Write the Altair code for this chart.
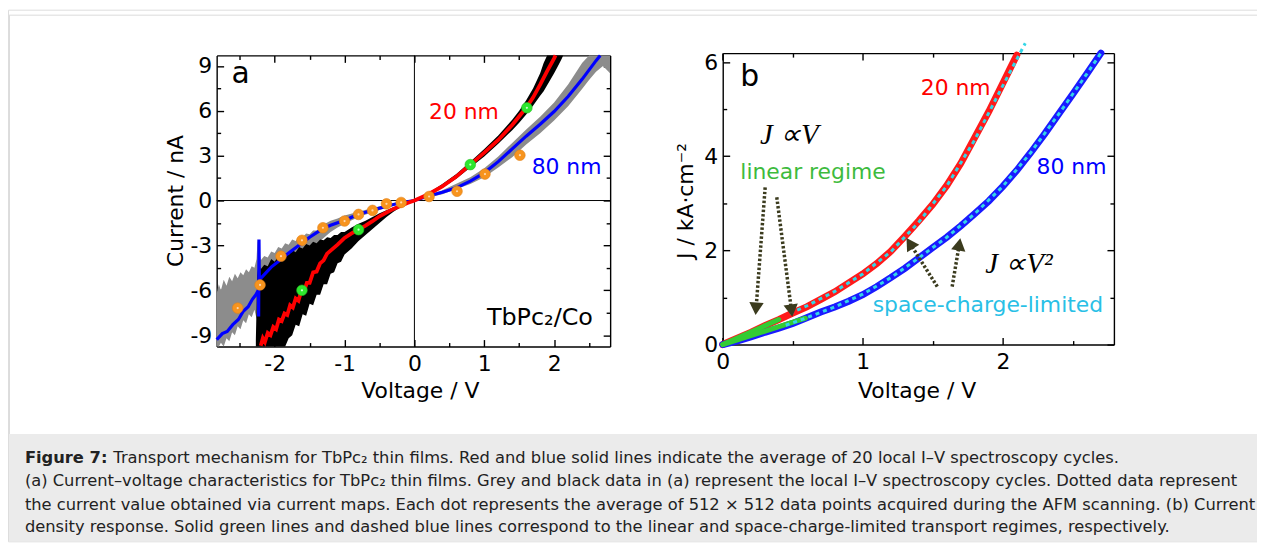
import altair as alt
import pandas as pd

W, H = 1257, 535
SANS = "DejaVu Sans"
SERIF = "Liberation Serif"

# ---------------- Panel (a): current-voltage characteristics ----------------
# red: 20 nm average
a_red_v = [-2.20, -2.17, -2.14, -2.10, -2.06, -2.02, -1.98, -1.94, -1.90, -1.86, -1.82, -1.78,
           -1.74, -1.70, -1.66, -1.62, -1.58, -1.54, -1.50, -1.45, -1.40, -1.35, -1.30, -1.25,
           -1.20, -1.10, -1.00, -0.90, -0.80, -0.70, -0.60, -0.50, -0.40, -0.30, -0.20, -0.10,
           0.0, 0.2, 0.4, 0.6, 0.8, 1.0, 1.2, 1.4, 1.6, 1.7, 1.8, 1.9, 2.0, 2.02]
a_red_i = [-9.70, -9.20, -9.45, -8.85, -9.00, -8.45, -8.60, -7.95, -8.05, -7.55, -7.65, -7.00,
           -7.15, -6.55, -6.70, -6.05, -6.05, -5.50, -5.50, -4.80, -4.75, -4.20, -4.00, -3.55,
           -3.35, -2.95, -2.50, -2.20, -1.95, -1.68, -1.38, -1.05, -0.80, -0.56, -0.36, -0.17,
           0.0, 0.42, 0.95, 1.60, 2.40, 3.20, 4.05, 5.05, 6.20, 6.90, 7.75, 8.65, 9.50, 9.70]
# blue: 80 nm average (with the spike near -2.23 V)
a_blue_v = [-2.83, -2.75, -2.68, -2.60, -2.52, -2.45, -2.38, -2.32, -2.27, -2.235, -2.23, -2.225,
            -2.22, -2.15, -2.05, -1.92, -1.80, -1.70, -1.62, -1.50, -1.40, -1.31, -1.20, -1.10,
            -1.00, -0.90, -0.80, -0.60, -0.40, -0.20, 0.0, 0.2, 0.4, 0.6, 0.8, 1.0, 1.2, 1.4,
            1.6, 1.8, 2.0, 2.2, 2.4, 2.6, 2.66]
a_blue_i = [-9.30, -8.90, -8.75, -8.30, -7.95, -7.40, -7.10, -6.60, -6.30, -6.00, -7.75, -2.60,
            -5.30, -4.95, -4.45, -3.98, -3.50, -3.15, -2.88, -2.45, -2.15, -1.88, -1.65, -1.48,
            -1.33, -1.12, -0.93, -0.64, -0.38, -0.15, 0.0, 0.30, 0.55, 0.85, 1.30, 1.85, 2.60, 3.45,
            4.30, 5.10, 5.95, 6.95, 8.10, 9.35, 9.70]
# black: local I-V cycles, 20 nm (envelope)
a_black_v = [-2.27, -2.25, -2.23, -2.20, -2.15, -2.10, -2.05, -2.00, -1.95, -1.90, -1.85, -1.80,
             -1.75, -1.70, -1.65, -1.60, -1.55, -1.50, -1.45, -1.40, -1.35, -1.30, -1.25, -1.20,
             -1.15, -1.10, -1.05, -1.00, -0.90, -0.80, -0.70, -0.60, -0.50, -0.40, -0.30, -0.20,
             -0.10, 0.00, 0.20, 0.40, 0.60, 0.80, 1.00, 1.20, 1.40, 1.50, 1.60, 1.70, 1.80, 1.85,
             1.90, 2.00, 2.05, 2.10, 2.13]
a_black_lo = [-9.76, -9.76, -9.76, -9.76, -9.76, -9.76, -9.76, -9.76, -9.76, -9.76, -9.76, -9.20,
              -9.00, -8.30, -8.40, -7.60, -7.70, -6.90, -7.00, -6.30, -6.30, -5.60, -5.60, -4.90,
              -4.80, -4.20, -4.10, -3.60, -3.20, -2.70, -2.30, -1.90, -1.50, -1.10, -0.75, -0.45,
              -0.20, -0.03, 0.36, 0.85, 1.45, 2.20, 2.95, 3.80, 4.70, 5.20, 5.75, 6.35, 7.00, 7.30,
              7.70, 8.50, 8.95, 9.40, 9.70]
a_black_hi = [-9.30, -5.00, -4.20, -4.60, -4.30, -4.40, -3.90, -4.10, -3.70, -3.90, -3.50, -3.65,
              -3.30, -3.45, -3.10, -3.20, -2.90, -3.00, -2.75, -2.85, -2.60, -2.65, -2.45, -2.50,
              -2.30, -2.30, -2.10, -2.10, -1.80, -1.55, -1.35, -1.10, -0.85, -0.65, -0.45, -0.28,
              -0.10, 0.03, 0.50, 1.10, 1.78, 2.60, 3.45, 4.35, 5.40, 6.00, 6.70, 7.50, 8.50, 9.20,
              9.70, 9.70, 9.70, 9.70, 9.70]
# grey: local I-V cycles, 80 nm (envelope)
a_grey_v = [-2.83, -2.80, -2.77, -2.73, -2.69, -2.65, -2.61, -2.57, -2.53, -2.49, -2.45, -2.41,
            -2.37, -2.33, -2.29, -2.26, -2.245, -2.23, -2.20, -2.15, -2.10, -2.05, -2.00, -1.95,
            -1.90, -1.85, -1.80, -1.75, -1.70, -1.65, -1.60, -1.55, -1.50, -1.45, -1.40, -1.30,
            -1.20, -1.10, -1.00, -0.80, -0.60, -0.40, -0.20, 0.00, 0.40, 0.80, 1.00, 1.20, 1.40,
            1.60, 1.80, 2.00, 2.20, 2.40, 2.50, 2.60, 2.70, 2.80]
a_grey_lo = [-9.76, -9.76, -9.50, -9.76, -9.20, -9.40, -8.80, -9.00, -8.40, -8.60, -8.00, -8.20,
             -7.60, -7.80, -7.30, -7.90, -7.80, -6.90, -6.80, -6.50, -6.40, -6.10, -6.00, -5.70,
             -5.50, -5.20, -4.90, -4.70, -4.40, -4.20, -3.90, -3.60, -3.40, -3.10, -2.90, -2.50,
             -2.10, -1.80, -1.55, -1.10, -0.78, -0.48, -0.22, -0.03, 0.42, 1.10, 1.55, 2.20, 2.90,
             3.75, 4.50, 5.35, 6.30, 7.45, 8.05, 8.60, 9.00, 8.50]
a_grey_hi = [-6.20, -5.60, -6.00, -5.30, -5.70, -5.10, -5.40, -4.90, -5.20, -4.80, -5.00, -4.60,
             -4.80, -4.40, -4.50, -3.90, -2.55, -3.20, -4.00, -3.70, -3.80, -3.40, -3.50, -3.10,
             -3.20, -2.85, -2.95, -2.60, -2.70, -2.40, -2.45, -2.20, -2.25, -2.00, -2.00, -1.60,
             -1.35, -1.20, -1.00, -0.75, -0.50, -0.28, -0.10, 0.03, 0.68, 1.55, 2.15, 2.95, 3.85,
             4.75, 5.60, 6.55, 7.75, 9.20, 9.70, 9.70, 9.70, 9.70]
# orange dots: current maps
a_map_v = [-2.53, -2.21, -1.91, -1.61, -1.31, -1.00, -0.80, -0.60, -0.40, -0.19, 0.21, 0.61, 1.01, 1.51]
a_map_i = [-7.19, -5.64, -3.72, -2.66, -1.82, -1.37, -0.93, -0.66, -0.22, -0.13, 0.27, 0.62, 1.77, 3.03]
# green dots: current maps (20 nm)
a_green_v = [-1.61, -0.80, 0.80, 1.61]
a_green_i = [-6.00, -1.95, 2.40, 6.20]

# ---------------- Panel (b): current density ----------------
b_red_v = [0, 0.1, 0.2, 0.3, 0.4, 0.5, 0.6, 0.7, 0.8, 0.9, 1.0, 1.1, 1.2, 1.3, 1.4, 1.5, 1.6,
           1.7, 1.8, 1.9, 2.0, 2.05, 2.1]
b_red_j = [0, 0.13, 0.26, 0.40, 0.53, 0.67, 0.80, 0.96, 1.12, 1.31, 1.50, 1.72, 1.98, 2.30,
           2.63, 2.98, 3.38, 3.85, 4.40, 4.95, 5.55, 5.85, 6.15]
b_blue_v = [0, 0.1, 0.2, 0.3, 0.4, 0.5, 0.6, 0.7, 0.8, 0.9, 1.0, 1.1, 1.2, 1.3, 1.4, 1.5, 1.6,
            1.7, 1.8, 1.9, 2.0, 2.1, 2.2, 2.3, 2.4, 2.5, 2.6, 2.7]
b_blue_j = [0, 0.07, 0.16, 0.26, 0.35, 0.45, 0.57, 0.69, 0.80, 0.92, 1.06, 1.23, 1.42, 1.62,
            1.84, 2.06, 2.28, 2.52, 2.78, 3.05, 3.36, 3.70, 4.08, 4.48, 4.90, 5.32, 5.75, 6.19]
b_fit20_v = [0.48, 0.6, 0.8, 1.0, 1.2, 1.4, 1.6, 1.8, 2.0, 2.16]
b_fit20_j = [0.66, 0.82, 1.13, 1.50, 1.97, 2.60, 3.37, 4.35, 5.50, 6.40]
b_fit80_v = [0.45, 0.6, 0.8, 1.0, 1.2, 1.4, 1.6, 1.8, 2.0, 2.2, 2.4, 2.6, 2.7]
b_fit80_j = [0.41, 0.57, 0.80, 1.07, 1.42, 1.84, 2.28, 2.78, 3.36, 4.08, 4.90, 5.75, 6.19]
b_lin_id = [20, 20, 80, 80]
b_lin_v = [0.0, 0.40, 0.0, 0.59]
b_lin_j = [0.0, 0.53, 0.0, 0.56]
# annotation arrows: start (v0, j0) -> head (v1, j1)
b_arrow_v0 = [0.303, 0.386, 1.532, 1.638]
b_arrow_j0 = [3.34, 3.13, 1.23, 1.23]
b_arrow_v1 = [0.238, 0.491, 1.336, 1.689]
b_arrow_j1 = [0.76, 0.72, 2.152, 2.129]
b_arrow_shape = ["triangle-down", "triangle-down", "triangle-up", "triangle-up"]
b_arrow_angle = [4.4, 352.7, 327.7, 9.5]

# ---------------- annotation texts ----------------
a_text = ["a", "20 nm", "80 nm", "TbPc\u2082/Co"]
a_text_v = [-2.617, 0.209, 1.678, 1.038]
a_text_i = [7.855, 5.42, 1.77, -8.30]
a_text_c = ["#000000", "#ff0000", "#0000ff", "#000000"]
a_text_s = [30, 22, 22, 24]
b_text = ["b", "20 nm", "linear regime", "80 nm", "space-charge-limited"]
b_text_v = [0.126, 1.414, 0.126, 2.241, 1.071]
b_text_j = [5.485, 5.31, 3.517, 3.62, 0.70]
b_text_c = ["#000000", "#ff0000", "#3dbb3d", "#0000ff", "#29bfe6"]
b_text_s = [30, 22, 22, 22, 22]
b_math = ["J \u221dV", "J \u221dV\u00b2"]
b_math_v = [0.267, 1.875]
b_math_j = [4.255, 1.51]

# ---------------- ticks ----------------
a_x_major = [-2, -1, 0, 1, 2]
a_x_minor = [-2.5, -1.5, -0.5, 0.5, 1.5, 2.5]
a_y_major = [-9, -6, -3, 0, 3, 6, 9]
a_y_minor = [-7.5, -4.5, -1.5, 1.5, 4.5, 7.5]
b_x_major = [0, 1, 2]
b_x_minor = [0.5, 1.5, 2.5]
b_y_major = [0, 2, 4, 6]
b_y_minor = [1, 3, 5]

# ---------------- caption ----------------
caption_bold = "Figure 7:"
caption_lines = [
    "Transport mechanism for TbPc\u2082 thin films. Red and blue solid lines indicate the average of 20 local I\u2013V spectroscopy cycles.",
    "(a) Current\u2013voltage characteristics for TbPc\u2082 thin films. Grey and black data in (a) represent the local I\u2013V spectroscopy cycles. Dotted data represent",
    "the current value obtained via current maps. Each dot represents the average of 512 \u00d7 512 data points acquired during the AFM scanning. (b) Current",
    "density response. Solid green lines and dashed blue lines correspond to the linear and space-charge-limited transport regimes, respectively.",
]

# ---------------- geometry ----------------
GEOM = {
    "a": {"xd": [-2.831, 2.802], "yd": [-9.76, 9.70], "xr": [210, 606], "yr": [339, 46]},
    "b": {"xd": [0.0, 2.793], "yd": [0.0, 6.19], "xr": [719.3, 1113], "yr": [337, 43.7]},
}


def sx(p):
    g = GEOM[p]
    return alt.Scale(domain=g["xd"], range=g["xr"], nice=False, zero=False)


def sy(p):
    g = GEOM[p]
    return alt.Scale(domain=g["yd"], range=g["yr"], nice=False, zero=False)


def X(p, f, axis=None):
    return alt.X(f"{f}:Q", scale=sx(p), axis=axis)


def Y(p, f, axis=None):
    return alt.Y(f"{f}:Q", scale=sy(p), axis=axis)


AX = dict(grid=False, domainColor="black", domainWidth=1.4, tickColor="black", tickWidth=1.4,
          labelFont=SANS, labelFontSize=22, labelColor="black", labelFlush=False,
          labelOverlap=False, titleFont=SANS, titleFontSize=22, titleFontWeight="normal",
          titleColor="black")


def axis_layers(p, xmaj, xmin, ymaj, ymin, xtitle, ytitle, xtitle_pos, ytitle_pos):
    g = GEOM[p]
    bottom = g["yr"][0] - H
    top = -g["yr"][1]
    left = -g["xr"][0]
    right = g["xr"][1] - W
    df = pd.DataFrame({"v": [g["xd"][0]], "w": [g["yd"][0]]})
    major = alt.ExprRef(expr="-7")
    minor = alt.ExprRef(expr="-4")
    layers = []
    # bottom / left with labels
    xa = alt.Axis(orient="bottom", offset=bottom, values=xmaj, tickSize=major, labelPadding=14,
                  labelExpr="'' + datum.value", title=xtitle, titleX=xtitle_pos[0],
                  titleY=xtitle_pos[1], titleBaseline="alphabetic", titleAlign="center", **AX)
    ya = alt.Axis(orient="left", offset=left, values=ymaj, tickSize=major, labelPadding=12,
                  labelExpr="'' + datum.value", title=ytitle, titleX=ytitle_pos[0],
                  titleY=ytitle_pos[1], titleAngle=270, titleBaseline="alphabetic",
                  titleAlign="center", **AX)
    layers.append(alt.Chart(df).mark_point(opacity=0).encode(x=X(p, "v", xa), y=Y(p, "w", ya)))
    # minor bottom / left
    xa = alt.Axis(orient="bottom", offset=bottom, values=xmin, tickSize=minor, labels=False,
                  domain=False, title=None, **AX)
    ya = alt.Axis(orient="left", offset=left, values=ymin, tickSize=minor, labels=False,
                  domain=False, title=None, **AX)
    layers.append(alt.Chart(df).mark_point(opacity=0).encode(x=X(p, "v", xa), y=Y(p, "w", ya)))
    # mirrored top / right
    xa = alt.Axis(orient="top", offset=top, values=xmaj, tickSize=major, labels=False,
                  title=None, **AX)
    ya = alt.Axis(orient="right", offset=right, values=ymaj, tickSize=major, labels=False,
                  title=None, **AX)
    layers.append(alt.Chart(df).mark_point(opacity=0).encode(x=X(p, "v", xa), y=Y(p, "w", ya)))
    xa = alt.Axis(orient="top", offset=top, values=xmin, tickSize=minor, labels=False,
                  domain=False, title=None, **AX)
    ya = alt.Axis(orient="right", offset=right, values=ymin, tickSize=minor, labels=False,
                  domain=False, title=None, **AX)
    layers.append(alt.Chart(df).mark_point(opacity=0).encode(x=X(p, "v", xa), y=Y(p, "w", ya)))
    return layers


one = pd.DataFrame({"k": [0]})
layers = []

# ---------------- page decorations ----------------
layers.append(alt.Chart(one).mark_rect(color="#ebebeb").encode(
    x=alt.value(1), x2=alt.value(W), y=alt.value(427), y2=alt.value(H)))
layers.append(alt.Chart(one).mark_rule(color="#dcdcdc", strokeWidth=1).encode(
    x=alt.value(1), x2=alt.value(W), y=alt.value(5.5)))
layers.append(alt.Chart(one).mark_rule(color="#dcdcdc", strokeWidth=1).encode(
    x=alt.value(1.5), y=alt.value(5.5), y2=alt.value(427)))

# caption
CAP = dict(font=SANS, fontSize=16.4, color="#222222", align="left", baseline="alphabetic")
layers.append(alt.Chart(pd.DataFrame({"t": [caption_bold]})).mark_text(fontWeight="bold", **CAP).encode(
    x=alt.value(17), y=alt.value(456), text="t:N"))
cap_y = [456, 479.5, 503, 526]
cap_x = [106, 17, 17, 17]
for line, yy, xx in zip(caption_lines, cap_y, cap_x):
    layers.append(alt.Chart(pd.DataFrame({"t": [line]})).mark_text(**CAP).encode(
        x=alt.value(xx), y=alt.value(yy), text="t:N"))

# ---------------- panel (a) ----------------
ga = GEOM["a"]
zero_df = pd.DataFrame({"v": [0.0, ga["xd"][0]], "w": [ga["yd"][0], 0.0],
                        "v2": [0.0, ga["xd"][1]], "w2": [ga["yd"][1], 0.0]})
layers.append(alt.Chart(zero_df).mark_rule(color="black", strokeWidth=1).encode(
    x=X("a", "v"), y=Y("a", "w"), x2="v2:Q", y2="w2:Q"))

grey_df = pd.DataFrame({"v": a_grey_v, "lo": a_grey_lo, "hi": a_grey_hi})
layers.append(alt.Chart(grey_df).mark_area(color="#8c8c8c", opacity=1).encode(
    x=X("a", "v"), y=Y("a", "lo"), y2="hi:Q"))
black_df = pd.DataFrame({"v": a_black_v, "lo": a_black_lo, "hi": a_black_hi})
layers.append(alt.Chart(black_df).mark_area(color="#000000", opacity=1).encode(
    x=X("a", "v"), y=Y("a", "lo"), y2="hi:Q"))

blue_df = pd.DataFrame({"v": a_blue_v, "i": a_blue_i, "k": list(range(len(a_blue_v)))})
layers.append(alt.Chart(blue_df).mark_line(color="#0000ff", strokeWidth=3.2).encode(
    x=X("a", "v"), y=Y("a", "i"), order="k:Q"))
red_df = pd.DataFrame({"v": a_red_v, "i": a_red_i})
layers.append(alt.Chart(red_df).mark_line(color="#ff0000", strokeWidth=3.8).encode(
    x=X("a", "v"), y=Y("a", "i")))

map_df = pd.DataFrame({"v": a_map_v, "i": a_map_i})
layers.append(alt.Chart(map_df).mark_point(filled=True, shape="circle", size=115, color="#f7941e",
                                           stroke="#e08018", strokeWidth=0.6, opacity=1).encode(
    x=X("a", "v"), y=Y("a", "i")))
layers.append(alt.Chart(map_df).mark_point(filled=True, shape="circle", size=5, color="#ffd7ae",
                                           opacity=1).encode(x=X("a", "v"), y=Y("a", "i")))
green_df = pd.DataFrame({"v": a_green_v, "i": a_green_i})
layers.append(alt.Chart(green_df).mark_point(filled=True, shape="circle", size=115, color="#2ee62e",
                                             stroke="#22c022", strokeWidth=0.6, opacity=1).encode(
    x=X("a", "v"), y=Y("a", "i")))
layers.append(alt.Chart(green_df).mark_point(filled=True, shape="circle", size=5, color="#c8ffc8",
                                             opacity=1).encode(x=X("a", "v"), y=Y("a", "i")))

at_df = pd.DataFrame({"t": a_text, "v": a_text_v, "i": a_text_i, "c": a_text_c, "s": a_text_s})
layers.append(alt.Chart(at_df).mark_text(font=SANS, align="left", baseline="alphabetic").encode(
    x=X("a", "v"), y=Y("a", "i"), text="t:N", color=alt.Color("c:N", scale=None),
    size=alt.Size("s:Q", scale=None)))

layers += axis_layers("a", a_x_major, a_x_minor, a_y_major, a_y_minor,
                      "Voltage / V", "Current / nA", (414.5, 51.3), (-34.7, 192))

# ---------------- panel (b) ----------------
bred_df = pd.DataFrame({"v": b_red_v, "j": b_red_j})
layers.append(alt.Chart(bred_df).mark_line(color="#ff1a1a", strokeWidth=7, strokeCap="round").encode(
    x=X("b", "v"), y=Y("b", "j")))
bblue_df = pd.DataFrame({"v": b_blue_v, "j": b_blue_j})
layers.append(alt.Chart(bblue_df).mark_line(color="#1a1aff", strokeWidth=7, strokeCap="round").encode(
    x=X("b", "v"), y=Y("b", "j")))
lin_df = pd.DataFrame({"id": b_lin_id, "v": b_lin_v, "j": b_lin_j})
layers.append(alt.Chart(lin_df).mark_line(color="#33cc33", strokeWidth=5, strokeCap="round").encode(
    x=X("b", "v"), y=Y("b", "j"), detail="id:N"))
fit20_df = pd.DataFrame({"v": b_fit20_v, "j": b_fit20_j})
layers.append(alt.Chart(fit20_df).mark_line(color="#33d6e6", strokeWidth=3, strokeDash=[4, 4]).encode(
    x=X("b", "v"), y=Y("b", "j")))
fit80_df = pd.DataFrame({"v": b_fit80_v, "j": b_fit80_j})
layers.append(alt.Chart(fit80_df).mark_line(color="#33d6e6", strokeWidth=3, strokeDash=[4, 4]).encode(
    x=X("b", "v"), y=Y("b", "j")))

arrow_df = pd.DataFrame({"v0": b_arrow_v0, "j0": b_arrow_j0, "v1": b_arrow_v1, "j1": b_arrow_j1,
                         "shape": b_arrow_shape, "ang": b_arrow_angle})
layers.append(alt.Chart(arrow_df).mark_rule(color="#3b3b1e", strokeWidth=3.5, strokeDash=[2.5, 2]).encode(
    x=X("b", "v0"), y=Y("b", "j0"), x2="v1:Q", y2="j1:Q"))
layers.append(alt.Chart(arrow_df).mark_point(filled=True, size=210, color="#3b3b1e", opacity=1).encode(
    x=X("b", "v1"), y=Y("b", "j1"), shape=alt.Shape("shape:N", scale=None),
    angle=alt.Angle("ang:Q", scale=None)))

bt_df = pd.DataFrame({"t": b_text, "v": b_text_v, "j": b_text_j, "c": b_text_c, "s": b_text_s})
layers.append(alt.Chart(bt_df).mark_text(font=SANS, align="left", baseline="alphabetic").encode(
    x=X("b", "v"), y=Y("b", "j"), text="t:N", color=alt.Color("c:N", scale=None),
    size=alt.Size("s:Q", scale=None)))
bm_df = pd.DataFrame({"t": b_math, "v": b_math_v, "j": b_math_j})
layers.append(alt.Chart(bm_df).mark_text(font=SERIF, fontStyle="italic", fontSize=29, color="black",
                                         align="left", baseline="alphabetic").encode(
    x=X("b", "v"), y=Y("b", "j"), text="t:N"))

layers += axis_layers("b", b_x_major, b_x_minor, b_y_major, b_y_minor,
                      "Voltage / V", "J / kA\u00b7cm\u207b\u00b2", (914.5, 53.3), (-30.6, 192))

chart = alt.layer(*layers).resolve_scale(x="independent", y="independent").properties(
    width=W, height=H, autosize=alt.AutoSizeParams(type="none"), padding=0
).configure_view(stroke=None).configure(background="white")

chart.save("out.html", embed_options={"renderer": "svg", "actions": False})
